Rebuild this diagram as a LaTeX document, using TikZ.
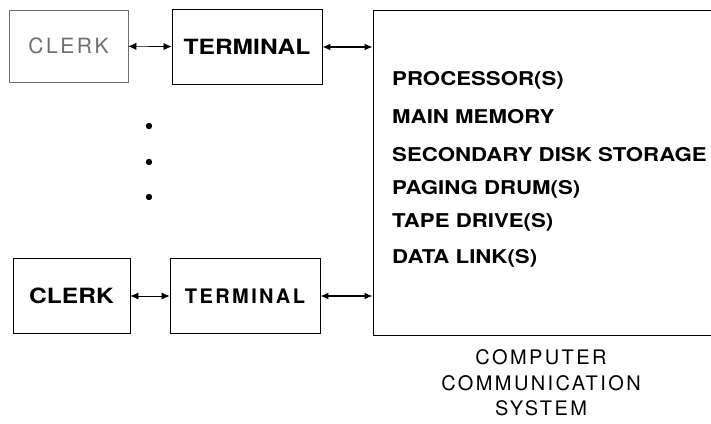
\documentclass[tikz,border=0pt]{standalone}
\usepackage{fontspec}
\setsansfont{TeX Gyre Heros}
\newfontfamily\wideFont[FakeStretch=1.17]{TeX Gyre Heros}
\newfontfamily\spacedfont[LetterSpace=12]{TeX Gyre Heros}
\usetikzlibrary{arrows.meta}
\definecolor{faintColor}{RGB}{110, 110, 110}

\begin{document}
\begin{tikzpicture}[
    x=1pt, y=-1pt,
    >={Latex[length=8pt, width=7pt]},
    unit box/.style={draw, thick, inner sep=0pt},
    faint box/.style={draw=faintColor, semithick, inner sep=0pt},
    item text/.style={anchor=west, inner sep=0pt,
        font=\wideFont\bfseries\fontsize{19}{22}\selectfont},
    link thin/.style={<->, semithick},
    link thick/.style={<->, line width=2.4pt},
]

% ---- layout parameters ----
\def\yTop{47}       % y of first clerk row
\def\yBot{296}      % y of last clerk row
\def\xItem{392}     % left edge of the listed items

\useasboundingbox (0,0) rectangle (711,423);

% ---- first clerk row ----
\node[faint box, minimum width=119pt, minimum height=72pt,
      text=faintColor, font=\spacedfont\fontsize{21}{24}\selectfont]
    (clerkTop) at (68.5, 46) {CLERK};
\node[unit box, minimum width=150pt, minimum height=75pt,
      font=\wideFont\bfseries\fontsize{21}{24}\selectfont]
    (termTop) at (247, \yTop) {TERMINAL};

% ---- last clerk row ----
\node[unit box, minimum width=117pt, minimum height=75pt,
      font=\wideFont\bfseries\fontsize{21}{24}\selectfont]
    (clerkBot) at (71.5, \yBot) {CLERK};
\node[unit box, minimum width=150pt, minimum height=75pt,
      font=\spacedfont\bfseries\fontsize{20}{24}\selectfont]
    (termBot) at (245, \yBot) {TERMINAL};

% ---- computer communication system ----
\node[unit box, minimum width=340pt, minimum height=325pt]
    (sys) at (543, 172.5) {};

% listed parts
\foreach \name/\yy [count=\i] in {PROCESSOR(S)/80, MAIN MEMORY/117,
        SECONDARY DISK STORAGE/155, PAGING DRUM(S)/189,
        TAPE DRIVE(S)/222, DATA LINK(S)/258} {
    \node[item text] (item\i) at (\xItem, \yy) {\name};
}

% caption under the box
\node[align=center, font=\spacedfont\fontsize{20}{25.5}\selectfont]
    (sysCap) at (541, 383)
    {COMPUTER\\COMMUNICATION\\SYSTEM};

% ---- further clerks ----
\foreach \yy in {126, 162, 197} {
    \fill (149, \yy) circle (3.2pt);
}

% ---- links ----
\draw[link thin] (clerkTop) -- (termTop);
\draw[link thick] (termTop.east) -- (termTop.east -| sys.west);
\draw[link thin] (clerkBot) -- (termBot);
\draw[link thick] (termBot.east) -- (termBot.east -| sys.west);

\end{tikzpicture}
\end{document}
